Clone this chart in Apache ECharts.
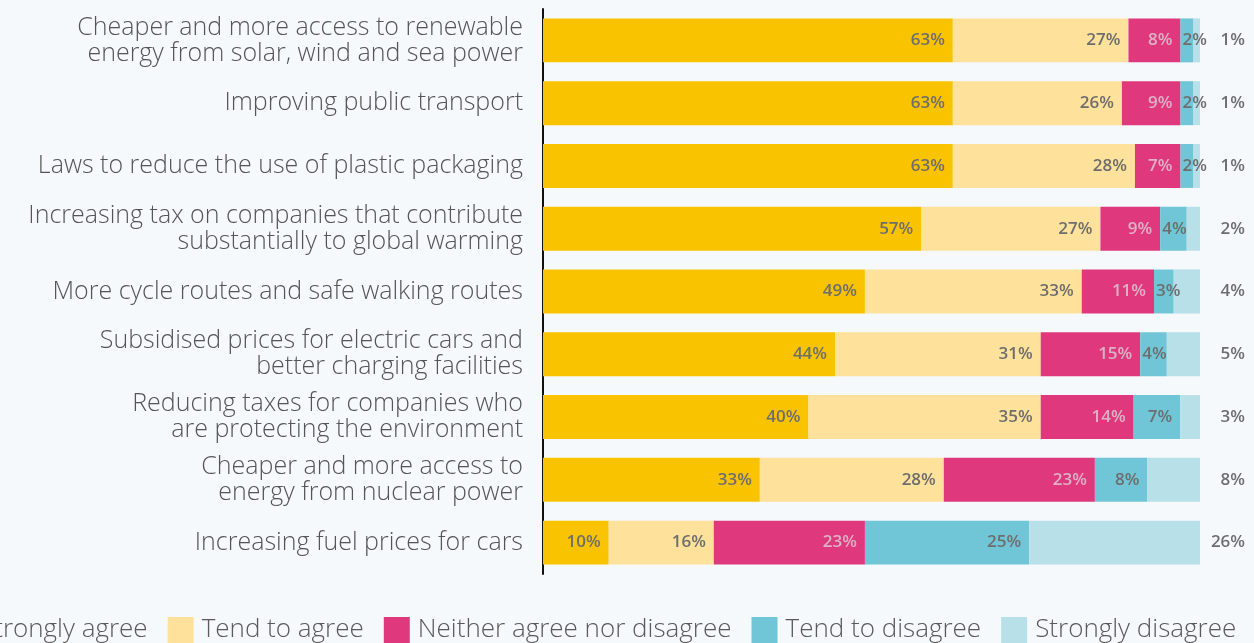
<!DOCTYPE html>
<html>
<head>
<meta charset="utf-8">
<script src="https://cdn.jsdelivr.net/npm/echarts@6/dist/echarts.min.js"></script>
<style>
html,body{margin:0;padding:0;background:#f5f9fc;}
#chart{width:1254px;height:643px;}
</style>
</head>
<body>
<div id="chart"></div>
<script>
const categories = [
  "Cheaper and more access to renewable\nenergy from solar, wind and sea power",
  "Improving public transport",
  "Laws to reduce the use of plastic packaging",
  "Increasing tax on companies that contribute\nsubstantially to global warming",
  "More cycle routes and safe walking routes",
  "Subsidised prices for electric cars and\nbetter charging facilities",
  "Reducing taxes for companies who\nare protecting the environment",
  "Cheaper and more access to\nenergy from nuclear power",
  "Increasing fuel prices for cars"
];
const seriesNames = ["Strongly agree", "Tend to agree", "Neither agree nor disagree", "Tend to disagree", "Strongly disagree"];
const stronglyAgree   = [63, 63, 63, 57, 49, 44, 40, 33, 10];
const tendToAgree     = [27, 26, 28, 27, 33, 31, 35, 28, 16];
const neither         = [8, 9, 7, 9, 11, 15, 14, 23, 23];
const tendToDisagree  = [2, 2, 2, 4, 3, 4, 7, 8, 25];
const stronglyDisagree= [1, 1, 1, 2, 4, 5, 3, 8, 26];
const colors = ["#f9c300", "#fee19a", "#e0387d", "#70c6d6", "#b8e0e9"];

const raw = [stronglyAgree, tendToAgree, neither, tendToDisagree, stronglyDisagree];
const totals = categories.map((c, i) => raw.reduce((s, arr) => s + arr[i], 0));

const labelBase = {fontFamily: "Open Sans", fontWeight: 600, fontSize: 17, color: "#6e6e6e"};
const lightFont = "Open Sans";

const series = raw.map((arr, si) => ({
  name: seriesNames[si],
  type: "bar",
  stack: "total",
  barCategoryGap: "30%",
  itemStyle: {color: colors[si]},
  data: arr.map((v, i) => {
    const norm = v / totals[i] * 100;
    let label;
    if (si === 4) {
      label = {show: true, position: "insideRight", distance: 0, offset: [45, 0]};
    } else if (norm < 5.5) {
      label = {show: true, position: "insideLeft", distance: 2};
    } else {
      label = {show: true, position: "insideRight", distance: 8};
    }
    if (si === 2) label.color = "#dcb3c6";
    return {value: norm, raw: v, label: label};
  }),
  label: Object.assign({show: true, formatter: p => p.data.raw + "%"}, labelBase),
  emphasis: {disabled: true}
}));

const chart = echarts.init(document.getElementById("chart"), null, {renderer: "canvas"});
chart.setOption({
  backgroundColor: "#f5f9fc",
  animation: false,
  grid: {left: 543, right: 54, top: 9, bottom: 69, containLabel: false},
  xAxis: {type: "value", min: 0, max: 100, show: false},
  yAxis: {
    type: "category",
    data: categories,
    inverse: true,
    axisLine: {show: true, lineStyle: {color: "#111", width: 2}},
    axisTick: {show: false},
    axisLabel: {
      margin: 20,
      fontFamily: lightFont,
      fontWeight: 300,
      fontSize: 25,
      lineHeight: 26,
      color: "#555",
      align: "right"
    }
  },
  legend: {
    bottom: -5,
    left: -59,
    width: 1600,
    itemWidth: 26,
    itemHeight: 26,
    itemGap: 20,
    icon: "rect",
    textStyle: {fontFamily: lightFont, fontWeight: 300, fontSize: 26, color: "#5a5a5a", padding: [0, 0, 0, 3]},
    data: seriesNames
  },
  series: series
});
</script>
</body>
</html>
